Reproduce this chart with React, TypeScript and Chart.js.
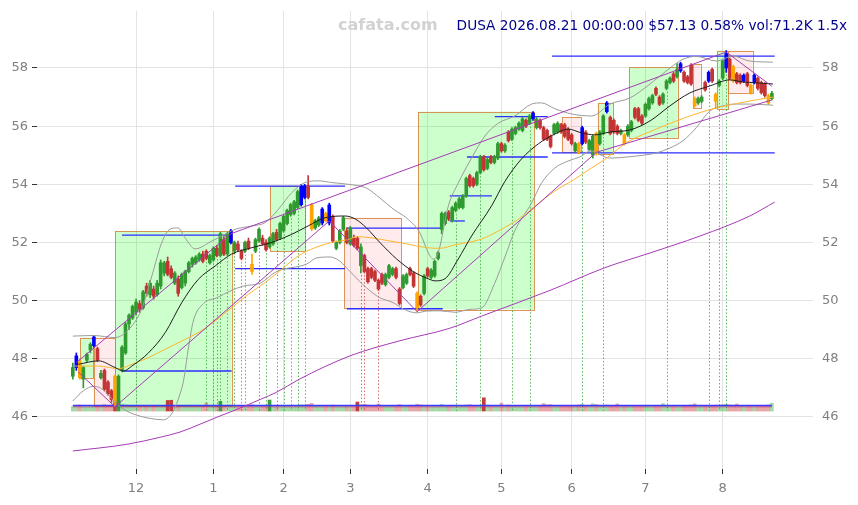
import React, { useEffect, useRef } from 'react';
import { Chart, registerables } from 'chart.js';

Chart.register(...registerables);

// ---------- data ----------
const monthTicks = [18, 40, 60, 79, 101, 122, 142, 163, 185];
const monthLabels = ['12', '1', '2', '3', '4', '5', '6', '7', '8'];
const priceTicks = [46, 48, 50, 52, 54, 56, 58];

const opens = [
  47.40, 47.70, 47.90, 47.30, 47.95, 48.30, 48.45, 48.35, 47.35, 47.60,
  47.20, 46.90, 47.40, 46.45, 47.60, 48.20, 49.20, 49.40, 49.60, 49.90,
  49.75, 50.50, 50.20, 50.40, 50.20, 50.50, 50.95, 51.35, 51.10, 50.60,
  50.75, 50.45, 50.60, 51.00, 51.25, 51.30, 51.40, 51.60, 51.70, 51.30,
  51.40, 51.80, 51.55, 52.10, 51.60, 52.00, 51.70, 51.95, 51.70, 51.70,
  52.05, 51.25, 51.70, 52.05, 52.15, 52.00, 51.85, 51.95, 52.35, 52.15,
  52.40, 52.65, 52.95, 53.00, 53.20, 53.30, 53.55, 53.95, 53.30, 52.50,
  52.60, 52.67, 53.00, 52.67, 52.90, 51.80, 52.00, 52.45, 52.40, 51.95,
  52.15, 52.15, 51.20, 51.55, 51.10, 51.10, 51.00, 50.70, 50.90, 50.55,
  50.80, 50.90, 51.10, 50.40, 50.45, 50.60, 51.10, 50.95, 50.25, 50.15,
  50.25, 51.10, 50.80, 50.85, 51.45, 52.45, 52.65, 53.05, 52.75, 53.10,
  53.20, 53.20, 53.60, 54.30, 54.20, 54.00, 54.40, 54.95, 54.55, 54.95,
  54.75, 54.90, 55.40, 55.15, 55.80, 55.55, 55.75, 55.90, 55.85, 56.20,
  56.10, 56.25, 55.95, 56.20, 55.95, 55.85, 55.65, 55.75, 55.80, 56.05,
  56.05, 55.90, 55.70, 55.15, 55.40, 55.40, 55.80, 55.20, 55.00, 55.75,
  55.40, 55.75, 56.50, 56.30, 56.20, 56.00, 55.75, 55.70, 55.70, 55.85,
  56.60, 56.60, 56.35, 56.35, 56.60, 56.80, 57.30, 57.00, 56.80, 57.30,
  57.50, 57.80, 57.70, 57.90, 57.85, 57.70, 58.10, 56.95, 56.80, 56.85,
  57.50, 57.55, 57.95, 57.10, 57.40, 57.65, 58.00, 58.30, 58.05, 57.80,
  57.75, 57.55, 57.80, 57.40, 57.50, 57.65, 57.50, 57.45, 57.05, 56.95,
];
const highs = [
  47.85, 48.20, 48.00, 47.75, 48.20, 48.55, 48.80, 48.40, 47.60, 47.65,
  47.25, 46.95, 47.45, 47.45, 48.45, 49.25, 49.55, 49.85, 50.05, 50.00,
  50.35, 50.60, 50.70, 50.50, 50.70, 51.40, 51.35, 51.50, 51.20, 51.00,
  50.85, 50.95, 51.05, 51.35, 51.50, 51.55, 51.65, 51.70, 51.75, 51.60,
  51.85, 51.90, 52.35, 52.20, 52.35, 52.45, 52.05, 52.05, 51.75, 52.05,
  52.15, 51.60, 52.15, 52.50, 52.25, 52.10, 52.20, 52.35, 52.45, 52.70,
  52.95, 53.15, 53.35, 53.45, 53.80, 54.00, 54.00, 54.30, 53.35, 52.80,
  52.90, 53.20, 53.05, 53.35, 52.95, 52.05, 52.45, 52.90, 52.50, 52.55,
  52.25, 52.20, 51.95, 51.60, 51.15, 51.15, 51.05, 50.75, 50.95, 50.95,
  51.25, 51.15, 51.15, 50.45, 50.90, 50.95, 51.15, 51.00, 50.30, 50.20,
  50.90, 51.15, 51.10, 51.40, 51.70, 53.05, 53.05, 53.10, 53.25, 53.40,
  53.55, 53.65, 54.25, 54.35, 54.25, 54.45, 55.00, 55.00, 54.90, 55.00,
  55.00, 55.45, 55.45, 55.40, 55.85, 55.95, 56.00, 56.15, 56.30, 56.25,
  56.40, 56.50, 56.30, 56.25, 56.00, 55.90, 55.70, 56.10, 56.15, 56.10,
  56.10, 55.95, 55.75, 55.45, 55.45, 56.00, 55.85, 55.55, 55.70, 55.80,
  55.85, 56.40, 56.85, 56.35, 56.25, 56.05, 55.90, 55.75, 56.05, 56.20,
  56.65, 56.65, 56.40, 56.80, 57.00, 57.10, 57.35, 57.05, 57.15, 57.60,
  57.70, 57.85, 58.15, 58.20, 57.90, 57.75, 58.15, 57.00, 57.00, 57.05,
  57.55, 57.90, 58.00, 57.15, 57.60, 58.30, 58.60, 58.35, 58.10, 57.85,
  57.80, 57.80, 57.85, 57.45, 57.80, 57.70, 57.55, 57.50, 57.10, 57.20,
];
const lows = [
  47.30, 47.60, 47.30, 47.00, 47.90, 48.20, 48.40, 47.90, 47.30, 46.90,
  46.75, 46.50, 46.35, 46.30, 47.55, 48.15, 49.00, 49.35, 49.50, 49.60,
  49.70, 50.15, 50.10, 50.05, 50.15, 50.40, 50.85, 50.85, 50.75, 50.55,
  50.15, 50.40, 50.50, 50.95, 51.15, 51.25, 51.35, 51.30, 51.40, 51.25,
  51.35, 51.50, 51.50, 51.55, 51.55, 51.95, 51.60, 51.70, 51.40, 51.65,
  51.75, 50.90, 51.65, 52.00, 51.90, 51.70, 51.80, 51.90, 52.05, 52.10,
  52.35, 52.60, 52.90, 52.95, 53.15, 53.25, 53.50, 53.50, 52.40, 52.45,
  52.55, 52.60, 52.70, 52.60, 52.00, 51.75, 51.95, 52.40, 51.95, 51.90,
  51.85, 51.75, 50.95, 50.95, 50.60, 50.75, 50.65, 50.35, 50.55, 50.50,
  50.75, 50.85, 50.75, 49.85, 50.40, 50.55, 50.85, 50.45, 49.60, 49.80,
  50.20, 50.80, 50.75, 50.80, 51.40, 52.30, 52.60, 52.75, 52.70, 53.05,
  53.15, 53.15, 53.55, 53.90, 53.90, 53.95, 54.35, 54.45, 54.50, 54.70,
  54.70, 54.85, 55.10, 55.10, 55.45, 55.50, 55.70, 55.85, 55.80, 55.95,
  56.05, 56.20, 55.90, 55.90, 55.50, 55.50, 55.25, 55.70, 55.75, 55.75,
  55.60, 55.50, 55.35, 55.10, 55.05, 55.35, 55.40, 55.15, 54.90, 55.00,
  55.35, 55.70, 56.45, 55.70, 55.75, 55.70, 55.70, 55.35, 55.65, 55.80,
  56.25, 56.15, 56.05, 56.30, 56.55, 56.75, 57.05, 56.70, 56.75, 57.25,
  57.45, 57.50, 57.65, 57.85, 57.50, 57.45, 57.40, 56.65, 56.75, 56.80,
  57.20, 57.50, 57.50, 56.60, 57.35, 57.60, 57.85, 57.60, 57.50, 57.45,
  57.45, 57.50, 57.35, 57.10, 57.45, 57.25, 57.10, 57.00, 56.75, 56.90,
];
const closes = [
  47.70, 48.10, 47.35, 47.70, 48.15, 48.50, 48.75, 47.95, 47.50, 46.95,
  46.80, 46.60, 46.50, 47.40, 48.40, 49.20, 49.50, 49.80, 49.95, 49.70,
  50.30, 50.25, 50.60, 50.15, 50.60, 51.30, 51.30, 50.90, 50.80, 50.95,
  50.25, 50.90, 51.00, 51.30, 51.45, 51.50, 51.60, 51.35, 51.45, 51.55,
  51.80, 51.55, 52.30, 51.60, 52.30, 52.40, 52.00, 51.75, 51.45, 52.00,
  51.80, 51.00, 52.10, 52.45, 51.95, 51.75, 52.15, 52.30, 52.10, 52.65,
  52.90, 53.10, 53.30, 53.40, 53.75, 53.94, 53.95, 53.55, 52.47, 52.75,
  52.85, 53.15, 52.75, 53.29, 52.05, 52.00, 52.40, 52.85, 52.00, 52.50,
  51.90, 51.80, 51.85, 51.00, 50.65, 50.80, 50.70, 50.40, 50.60, 50.90,
  51.20, 51.10, 50.80, 49.90, 50.85, 50.90, 50.90, 50.50, 49.75, 49.85,
  50.85, 50.85, 51.05, 51.35, 51.65, 53.00, 53.00, 52.80, 53.20, 53.35,
  53.50, 53.60, 54.20, 53.95, 53.95, 54.40, 54.95, 54.50, 54.85, 54.75,
  54.95, 55.40, 55.15, 55.35, 55.50, 55.90, 55.95, 56.10, 56.25, 56.00,
  56.35, 56.45, 56.25, 55.95, 55.55, 55.55, 55.30, 56.05, 56.10, 55.80,
  55.65, 55.55, 55.40, 55.40, 55.10, 55.95, 55.45, 55.50, 55.65, 55.05,
  55.80, 56.35, 56.80, 55.75, 55.80, 55.75, 55.85, 55.40, 56.00, 56.15,
  56.30, 56.20, 56.10, 56.75, 56.95, 57.05, 57.10, 56.75, 57.10, 57.55,
  57.65, 57.55, 57.95, 58.15, 57.55, 57.50, 57.45, 56.70, 56.95, 57.00,
  57.25, 57.85, 57.55, 56.85, 57.55, 58.25, 58.50, 57.65, 57.55, 57.50,
  57.50, 57.75, 57.40, 57.15, 57.75, 57.30, 57.15, 57.05, 56.80, 57.13,
];
// volume in thousands
const volumes = [
  42, 48, 55, 46, 40, 44, 50, 47, 52, 58,
  50, 54, 92, 95, 60, 55, 48, 45, 50, 42,
  46, 44, 40, 47, 43, 52, 48, 96, 98, 45,
  50, 44, 41, 46, 43, 40, 45, 48, 72, 47,
  52, 49, 88, 50, 47, 55, 44, 46, 50, 42,
  45, 58, 44, 41, 47, 50, 100, 46, 43, 48,
  50, 45, 47, 52, 49, 56, 54, 60, 70, 48,
  45, 50, 47, 52, 55, 44, 42, 46, 50, 48,
  45, 82, 58, 62, 55, 50, 52, 64, 50, 46,
  44, 47, 50, 58, 48, 45, 50, 52, 62, 56,
  48, 46, 44, 50, 47, 60, 52, 46, 44, 48,
  45, 50, 55, 58, 52, 48, 50, 120, 54, 50,
  46, 48, 72, 45, 55, 47, 44, 46, 48, 50,
  47, 52, 45, 48, 68, 56, 58, 44, 42, 46,
  50, 48, 52, 45, 55, 60, 52, 46, 66, 58,
  50, 52, 55, 48, 50, 64, 46, 50, 45, 44,
  48, 50, 46, 44, 47, 45, 50, 52, 68, 46,
  44, 48, 47, 52, 50, 48, 55, 66, 50, 46,
  48, 52, 50, 54, 47, 58, 62, 56, 52, 64,
  50, 48, 52, 46, 50, 48, 52, 50, 55, 71.2,
];
const volAvgFast = [[0, 50], [199, 50]];
const volAvgSlow = [[0, 38], [199, 38]];

const blueIdx = [1, 6, 45, 65, 66, 71, 73, 131, 145, 152, 173, 181, 186, 191, 194];
const orangeIdx = [2, 12, 51, 68, 72, 98, 144, 149, 157, 177, 183, 188, 193, 198];

// moving average (black)
const maFast = [
  [1.6, 47.81], [7.3, 47.93], [12, 47.7], [14.4, 47.58], [16.8, 47.75], [21.5, 48.2],
  [26.3, 48.9], [31, 49.93], [35.7, 50.73], [40.5, 51.19], [45.2, 51.6], [50.9, 51.82],
  [56.6, 52.0], [62.3, 52.28], [67, 52.57], [71.8, 52.85], [77.5, 52.91], [80.5, 52.8],
  [83.6, 52.5], [87.4, 52.0], [92.2, 51.43], [96.9, 51.0], [101.2, 50.75], [103.1, 50.68],
  [105.9, 50.75], [109.7, 51.43], [113.5, 52.22], [119.2, 53.26], [123, 54.1], [127.7, 54.87],
  [132.5, 55.39], [137.2, 55.73], [141, 55.9], [144.8, 55.77], [148.6, 55.7], [152.9, 55.8],
  [158.6, 55.87], [164.3, 56.18], [170, 56.7], [175.6, 57.14], [181.3, 57.38], [187, 57.59],
  [190.8, 57.52], [194.6, 57.49], [199.3, 57.45],
];
// moving average (orange)
const maSlow = [
  [0.6, 47.75], [7.3, 47.75], [13, 47.66], [16.8, 47.81], [21.5, 48.04], [26.3, 48.33],
  [31, 48.61], [35.7, 48.9], [40.5, 49.3], [45.2, 49.76], [50, 50.22], [54.7, 50.62],
  [59.5, 51.08], [64.2, 51.54], [68.9, 51.82], [73.7, 52.0], [78.4, 52.1], [81, 52.2],
  [85.5, 52.15], [90.3, 52.05], [95, 51.95], [100.7, 51.82], [104.5, 51.8], [108.8, 51.92],
  [116.4, 52.12], [122.1, 52.46], [126.8, 52.8], [131.6, 53.25], [137.2, 53.77], [142.9, 54.18],
  [147.6, 54.56], [151.4, 54.85], [155, 55.2], [158.6, 55.5], [166.1, 55.9], [175.6, 56.35],
  [183.2, 56.63], [189.8, 56.8], [199.3, 57.0],
];
// band (gray) upper and lower
const bandUpper = [
  [0, 48.78], [6, 48.8], [12, 48.73], [16.8, 49.13], [19.6, 49.71], [22.5, 50.85],
  [25.3, 51.99], [27.7, 52.46], [30, 52.5], [31.9, 52.17], [34.8, 51.78], [39.6, 52.05],
  [42.4, 52.22], [46.2, 52.45], [50.9, 52.57], [54.7, 52.68], [58.5, 53.14], [62.3, 53.71],
  [66.1, 54.06], [69.9, 54.12], [73.7, 54.06], [78.4, 54.0], [83.6, 53.87], [87.4, 53.53],
  [91.2, 53.15], [95, 52.84], [98.8, 52.33], [101.2, 51.64], [102.6, 51.43], [104, 51.64],
  [106.9, 53.26], [109.7, 54.04], [113.5, 54.9], [117.3, 55.66], [121.1, 56.1], [125.8, 56.35],
  [130.6, 56.76], [133.4, 56.8], [137.2, 56.6], [142, 56.42], [147.7, 56.35], [152.9, 56.76],
  [158.6, 56.97], [164.3, 57.45], [170, 58.0], [173.7, 58.3], [177.5, 58.4], [183.2, 58.24],
  [187.9, 58.41], [192.6, 58.24], [199.3, 58.2],
];
const bandLower = [
  [0, 46.55], [3, 46.9], [5.8, 47.05], [7.8, 47.0], [10.6, 46.7], [12, 46.5],
  [15.4, 46.2], [19.1, 46.03], [22, 45.95], [25.8, 45.9], [28.6, 46.2], [30.5, 46.79],
  [31.5, 47.24], [32.9, 48.37], [34.3, 49.3], [37.2, 49.9], [41, 50.1], [44.8, 50.33],
  [48.5, 50.5], [53.3, 50.6], [58, 51.0], [66.6, 51.26], [69.4, 51.47], [73.2, 51.5],
  [76, 51.36], [78.9, 51.0], [83.6, 50.44], [87.4, 50.1], [91.2, 49.93], [94.1, 49.71],
  [97.9, 49.58], [100.7, 49.64], [104.5, 49.65], [108.8, 49.6], [113, 49.7], [116.4, 49.75],
  [120.1, 50.6], [123, 51.5], [125.8, 52.4], [130.6, 53.36], [133.4, 54.04], [137.2, 54.56],
  [141, 54.8], [144.8, 54.97], [147.2, 55.15], [152.9, 54.9], [158.6, 54.95], [166.1, 55.08],
  [170, 55.25], [173.7, 55.5], [177.5, 55.95], [181.3, 56.52], [185.1, 56.7], [188.9, 56.76],
  [192.6, 56.76], [199.3, 56.72],
];
// long average (purple curve)
const maLong = [
  [0, 44.83], [15.4, 45.06], [24.8, 45.3], [30.5, 45.48], [36.2, 45.75], [41, 45.99],
  [46.7, 46.26], [53.3, 46.6], [58, 46.85], [64.2, 47.28], [78.9, 48.1], [93.1, 48.62],
  [107.3, 49.05], [116.4, 49.47], [135.8, 50.35], [151.4, 51.13], [164.3, 51.64], [178.5, 52.22],
  [192.7, 52.91], [199.8, 53.39],
];
// trend lines (purple)
const trendUpper = [[1, 47.87], [45, 52.3], [186, 58.55], [199, 57.37]];
const trendZigzag = [[1.5, 47.55], [12, 46.35], [73, 52.74], [98, 49.62], [149, 55.1], [199, 56.9]];

// level lines: [startIndex, endIndex, price]
const levels = [
  [14, 45.2, 52.25], [14, 45.2, 47.58], [46.2, 77.5, 53.94], [46.2, 77.5, 51.1],
  [78, 105.3, 52.49], [78, 105.3, 49.72], [107.3, 111.6, 52.74], [107.3, 119.3, 53.6],
  [112.2, 135.2, 54.94], [120.1, 135.2, 56.33], [136.4, 199.8, 55.08], [136.4, 199.8, 58.41],
];
// boxes: [startIndex, endIndex, low, high, direction]
const boxes: [number, number, number, number, string][] = [
  [2.1, 5.9, 47.35, 48.73, 'up'], [5.9, 12, 46.38, 48.73, 'down'], [12, 45.2, 46.38, 52.4, 'up'],
  [56.1, 66.1, 51.71, 53.94, 'up'], [77.2, 93.4, 49.75, 52.85, 'down'], [98.2, 131.3, 49.7, 56.5, 'up'],
  [139.2, 144.6, 55.1, 56.3, 'down'], [149.4, 153.7, 55.05, 56.8, 'up'], [158.3, 172.2, 55.6, 58.03, 'up'],
  [176.5, 178.7, 56.65, 58.15, 'down'], [183.3, 186.4, 56.6, 58.6, 'up'], [186.4, 193.5, 57.15, 58.6, 'down'],
];
// signal markers (dotted verticals)
const greenSignals = [18, 38, 40, 41, 42, 44, 46, 48, 49, 53, 55, 58, 60, 62, 64, 66, 109, 116, 125, 130, 145, 151, 169, 181, 184, 186];
const redSignals = [82, 83, 87];

// ---------- styling ----------
const GREEN = '#2f9a2f';
const RED = '#c43434';
const BLUE = '#0000ff';
const ORANGE = '#ffa500';
const FONT = 'DejaVu Sans';

const idx = closes.map((_, i) => i);
const candleColor = (i: number) =>
  blueIdx.includes(i) ? BLUE : orangeIdx.includes(i) ? ORANGE : closes[i] >= opens[i] ? GREEN : RED;
const volColor = (i: number) => {
  const up = closes[i] >= opens[i];
  const strong = volumes[i] >= 80;
  if (up) return strong ? 'rgba(40,150,40,0.9)' : 'rgba(60,170,60,0.45)';
  return strong ? 'rgba(190,40,40,0.9)' : 'rgba(200,60,60,0.45)';
};
const pts = (arr: number[][]) => arr.map(([x, y]) => ({ x, y }));

const overlayPlugin = {
  id: 'boxesAndSignals',
  beforeDatasetsDraw(chart: any) {
    const { ctx, chartArea } = chart;
    const x = chart.scales.x;
    const y = chart.scales.y;
    const yv = chart.scales.yVol;
    ctx.save();
    ctx.beginPath();
    ctx.rect(chartArea.left, chartArea.top, chartArea.right - chartArea.left, chartArea.bottom - chartArea.top);
    ctx.clip();
    boxes.forEach(([s, e, lo, hi, dir]) => {
      const x0 = x.getPixelForValue(s);
      const x1 = x.getPixelForValue(e);
      const y0 = y.getPixelForValue(hi);
      const y1 = y.getPixelForValue(lo);
      ctx.fillStyle = dir === 'up' ? 'rgba(0,255,0,0.2)' : 'rgba(255,0,0,0.08)';
      ctx.fillRect(x0, y0, x1 - x0, y1 - y0);
      ctx.strokeStyle = 'rgba(215,130,60,0.85)';
      ctx.lineWidth = 1;
      ctx.strokeRect(Math.round(x0) + 0.5, Math.round(y0) + 0.5, Math.round(x1 - x0), Math.round(y1 - y0));
    });
    const base = yv.getPixelForValue(0);
    ctx.lineWidth = 1;
    ctx.setLineDash([1.5, 2]);
    const drawSig = (list: number[], color: string) => {
      ctx.strokeStyle = color;
      list.forEach((i) => {
        const px = Math.round(x.getPixelForValue(i)) + 0.5;
        ctx.beginPath();
        ctx.moveTo(px, y.getPixelForValue(lows[i]) + 2);
        ctx.lineTo(px, base);
        ctx.stroke();
      });
    };
    drawSig(greenSignals, 'rgba(40,160,40,0.75)');
    drawSig(redSignals, 'rgba(200,50,50,0.7)');
    ctx.restore();
  },
};

const lineDs = (data: number[][], color: string, order = 1, width = 1, smooth = true) => ({
  type: 'line',
  data: pts(data),
  borderColor: color,
  borderWidth: width,
  pointRadius: 0,
  fill: false,
  cubicInterpolationMode: smooth ? 'monotone' : 'default',
  tension: 0,
  yAxisID: 'y',
  order,
});

const noPad = (s: any) => {
  s.paddingTop = 0;
  s.paddingBottom = 0;
  s.paddingLeft = 0;
  s.paddingRight = 0;
};

export default function App() {
  const ref = useRef<HTMLCanvasElement>(null);

  useEffect(() => {
    if (!ref.current) return;
    const datasets: any[] = [
      lineDs(trendUpper, '#a53bb5', 0, 1, false),
      lineDs(trendZigzag, '#a53bb5', 0, 1, false),
      lineDs(maLong, '#a53bb5', 0, 1),
      lineDs(maFast, '#1e1e1e', 1, 1),
      lineDs(maSlow, '#ffb52e', 1, 1),
      lineDs(bandUpper, '#9a9a9a', 1, 1),
      lineDs(bandLower, '#9a9a9a', 1, 1),
      {
        type: 'bar',
        data: idx.map((i) => ({ x: i, y: [opens[i], closes[i]] })),
        backgroundColor: idx.map(candleColor),
        borderWidth: 0,
        barThickness: 3,
        grouped: false,
        yAxisID: 'y',
        order: 2,
      },
      {
        type: 'bar',
        data: idx.map((i) => ({ x: i, y: [lows[i], highs[i]] })),
        backgroundColor: idx.map(candleColor),
        borderWidth: 0,
        barThickness: 1,
        grouped: false,
        yAxisID: 'y',
        order: 3,
      },
      ...levels.map(([s, e, p]) => ({
        type: 'line',
        data: [{ x: s, y: p }, { x: e, y: p }],
        borderColor: 'rgb(45,45,255)',
        borderWidth: 1.3,
        pointRadius: 0,
        yAxisID: 'y',
        order: 4,
      })),
      {
        type: 'line',
        data: pts(volAvgFast),
        borderColor: '#3a3aff',
        borderWidth: 1.6,
        pointRadius: 0,
        yAxisID: 'yVol',
        order: 4,
      },
      {
        type: 'line',
        data: pts(volAvgSlow),
        borderColor: 'rgba(190,40,120,0.7)',
        borderWidth: 1,
        pointRadius: 0,
        yAxisID: 'yVol',
        order: 4,
      },
      {
        type: 'bar',
        data: idx.map((i) => ({ x: i, y: [0, volumes[i]] })),
        backgroundColor: idx.map(volColor),
        borderWidth: 0,
        barThickness: 3,
        grouped: false,
        yAxisID: 'yVol',
        order: 6,
      },
    ];

    const tickFont = { family: FONT, size: 13 };
    const chart = new Chart(ref.current, {
      type: 'bar',
      data: { datasets },
      plugins: [overlayPlugin],
      options: {
        animation: false,
        responsive: false,
        maintainAspectRatio: false,
        events: [],
        layout: { padding: { top: 11, left: 0, right: 0, bottom: 0 } },
        plugins: { legend: { display: false }, tooltip: { enabled: false }, title: { display: false } },
        scales: {
          x: {
            type: 'linear',
            min: -10.2,
            max: 210.7,
            offset: false,
            border: { display: false },
            grid: { offset: false, color: '#e3e3e3', lineWidth: 1, tickColor: '#333', tickLength: 5 },
            ticks: {
              font: tickFont,
              color: '#808080',
              padding: 7,
              maxRotation: 0,
              autoSkip: false,
              callback: (v: any) => {
                const k = monthTicks.indexOf(Number(v));
                return k >= 0 ? monthLabels[k] : '';
              },
            },
            afterBuildTicks: (s: any) => {
              s.ticks = monthTicks.map((v) => ({ value: v }));
            },
            afterFit: (s: any) => {
              s.height = 36;
              noPad(s);
            },
          },
          y: {
            type: 'linear',
            position: 'left',
            min: 44.21,
            max: 59.96,
            border: { display: false },
            grid: { color: '#e3e3e3', lineWidth: 1, tickColor: '#333', tickLength: 5 },
            ticks: { font: tickFont, color: '#808080', padding: 4 },
            afterBuildTicks: (s: any) => {
              s.ticks = priceTicks.map((v) => ({ value: v }));
            },
            afterFit: (s: any) => {
              s.width = 37;
              noPad(s);
            },
          },
          y2: {
            type: 'linear',
            position: 'right',
            min: 44.21,
            max: 59.96,
            border: { display: false },
            grid: { drawOnChartArea: false, drawTicks: false },
            ticks: { font: tickFont, color: '#808080', padding: 9 },
            afterBuildTicks: (s: any) => {
              s.ticks = priceTicks.map((v) => ({ value: v }));
            },
            afterFit: (s: any) => {
              s.width = 45;
              noPad(s);
            },
          },
          yVol: {
            type: 'linear',
            display: false,
            min: -527,
            max: 3637,
          },
        },
      } as any,
    } as any);
    return () => chart.destroy();
  }, []);

  return (
    <div style={{ position: 'fixed', left: 0, top: 0, width: 858, height: 505, background: '#ffffff', overflow: 'hidden' }}>
      <canvas ref={ref} width={858} height={505} style={{ width: 858, height: 505, display: 'block' }} />
      <div
        style={{
          position: 'absolute',
          left: 338,
          top: 17,
          fontFamily: FONT,
          fontWeight: 'bold',
          fontSize: 16,
          lineHeight: '16px',
          color: '#d2d2d2',
          whiteSpace: 'nowrap',
        }}
      >
        cafata.com
      </div>
      <div
        style={{
          position: 'absolute',
          right: 11,
          top: 18.3,
          fontFamily: FONT,
          fontSize: 13.7,
          lineHeight: '14px',
          color: '#00008b',
          whiteSpace: 'nowrap',
        }}
      >
        DUSA 2026.08.21 00:00:00 $57.13 0.58% vol:71.2K 1.5x
      </div>
    </div>
  );
}
